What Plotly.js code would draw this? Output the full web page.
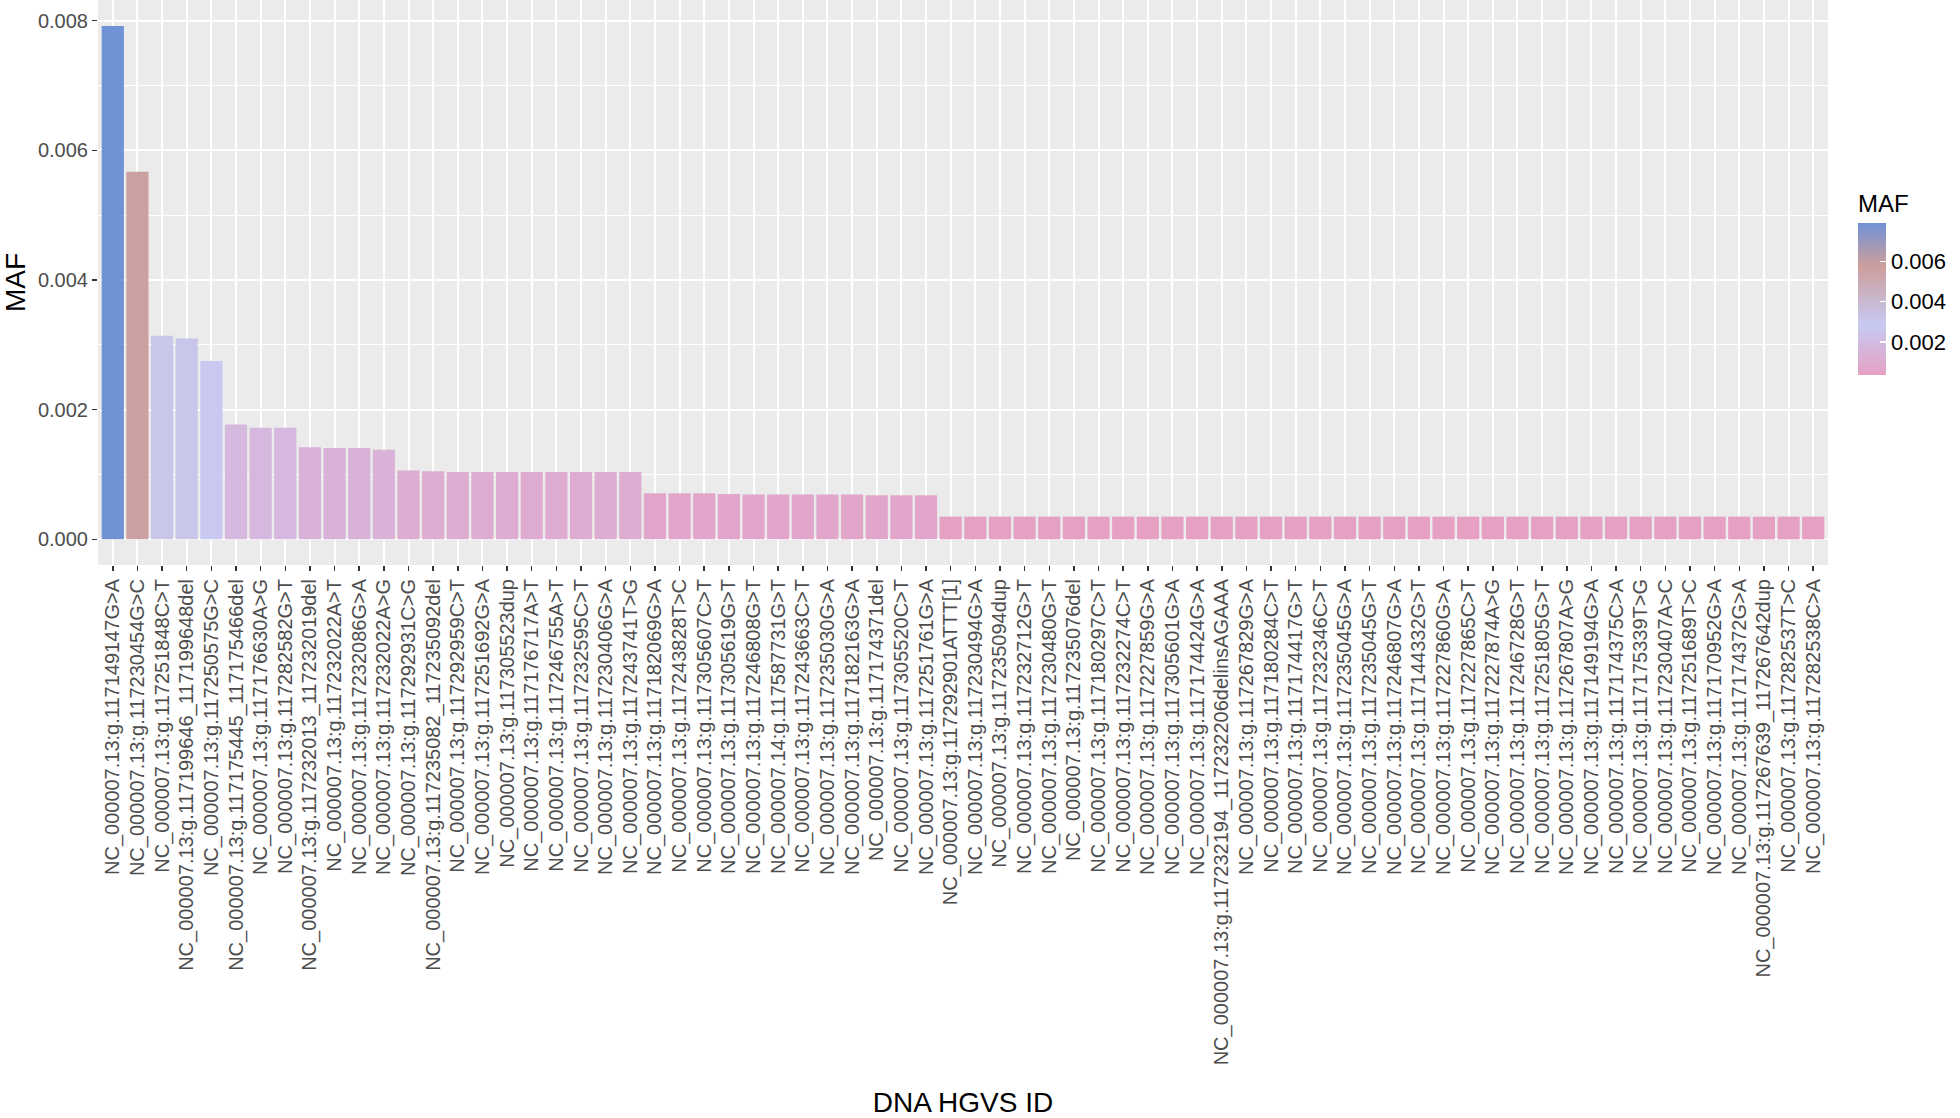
<!DOCTYPE html>
<html>
<head>
<meta charset="utf-8">
<script src="https://cdn.plot.ly/plotly-3.0.1.min.js"></script>
<style>
  html, body { margin: 0; padding: 0; background: #ffffff; }
  #chart { width: 1960px; height: 1118px; }
</style>
</head>
<body>
<div id="chart"></div>
<script>
// Variant IDs (x categories), in plotted order
const variantIds = [
  "NC_000007.13:g.117149147G>A",
  "NC_000007.13:g.117230454G>C",
  "NC_000007.13:g.117251848C>T",
  "NC_000007.13:g.117199646_117199648del",
  "NC_000007.13:g.117250575G>C",
  "NC_000007.13:g.117175445_117175466del",
  "NC_000007.13:g.117176630A>G",
  "NC_000007.13:g.117282582G>T",
  "NC_000007.13:g.117232013_117232019del",
  "NC_000007.13:g.117232022A>T",
  "NC_000007.13:g.117232086G>A",
  "NC_000007.13:g.117232022A>G",
  "NC_000007.13:g.117292931C>G",
  "NC_000007.13:g.117235082_117235092del",
  "NC_000007.13:g.117292959C>T",
  "NC_000007.13:g.117251692G>A",
  "NC_000007.13:g.117305523dup",
  "NC_000007.13:g.117176717A>T",
  "NC_000007.13:g.117246755A>T",
  "NC_000007.13:g.117232595C>T",
  "NC_000007.13:g.117230406G>A",
  "NC_000007.13:g.117243741T>G",
  "NC_000007.13:g.117182069G>A",
  "NC_000007.13:g.117243828T>C",
  "NC_000007.13:g.117305607C>T",
  "NC_000007.13:g.117305619G>T",
  "NC_000007.13:g.117246808G>T",
  "NC_000007.14:g.117587731G>T",
  "NC_000007.13:g.117243663C>T",
  "NC_000007.13:g.117235030G>A",
  "NC_000007.13:g.117182163G>A",
  "NC_000007.13:g.117174371del",
  "NC_000007.13:g.117305520C>T",
  "NC_000007.13:g.117251761G>A",
  "NC_000007.13:g.117292901ATTT[1]",
  "NC_000007.13:g.117230494G>A",
  "NC_000007.13:g.117235094dup",
  "NC_000007.13:g.117232712G>T",
  "NC_000007.13:g.117230480G>T",
  "NC_000007.13:g.117235076del",
  "NC_000007.13:g.117180297C>T",
  "NC_000007.13:g.117232274C>T",
  "NC_000007.13:g.117227859G>A",
  "NC_000007.13:g.117305601G>A",
  "NC_000007.13:g.117174424G>A",
  "NC_000007.13:g.117232194_117232206delinsAGAAA",
  "NC_000007.13:g.117267829G>A",
  "NC_000007.13:g.117180284C>T",
  "NC_000007.13:g.117174417G>T",
  "NC_000007.13:g.117232346C>T",
  "NC_000007.13:g.117235045G>A",
  "NC_000007.13:g.117235045G>T",
  "NC_000007.13:g.117246807G>A",
  "NC_000007.13:g.117144332G>T",
  "NC_000007.13:g.117227860G>A",
  "NC_000007.13:g.117227865C>T",
  "NC_000007.13:g.117227874A>G",
  "NC_000007.13:g.117246728G>T",
  "NC_000007.13:g.117251805G>T",
  "NC_000007.13:g.117267807A>G",
  "NC_000007.13:g.117149194G>A",
  "NC_000007.13:g.117174375C>A",
  "NC_000007.13:g.117175339T>G",
  "NC_000007.13:g.117230407A>C",
  "NC_000007.13:g.117251689T>C",
  "NC_000007.13:g.117170952G>A",
  "NC_000007.13:g.117174372G>A",
  "NC_000007.13:g.117267639_117267642dup",
  "NC_000007.13:g.117282537T>C",
  "NC_000007.13:g.117282538C>A"
];

// Minor allele frequency per variant
const mafValues = [
  0.00792, 0.00567, 0.00314, 0.00310, 0.00275,
  0.00177, 0.00172, 0.00172, 0.00142, 0.00141,
  0.00141, 0.00138, 0.00106, 0.00105, 0.00104,
  0.00104, 0.00104, 0.00104, 0.00104, 0.00104,
  0.00104, 0.00104, 0.00071, 0.00071, 0.00071,
  0.00070, 0.00069, 0.00069, 0.00069, 0.00069,
  0.00069, 0.00068, 0.00068, 0.00068, 0.00035,
  0.00035, 0.00035, 0.00035, 0.00035, 0.00035,
  0.00035, 0.00035, 0.00035, 0.00035, 0.00035,
  0.00035, 0.00035, 0.00035, 0.00035, 0.00035,
  0.00035, 0.00035, 0.00035, 0.00035, 0.00035,
  0.00035, 0.00035, 0.00035, 0.00035, 0.00035,
  0.00035, 0.00035, 0.00035, 0.00035, 0.00035,
  0.00035, 0.00035, 0.00035, 0.00035, 0.00035
];

// Axis ticks
const yTickVals = [0, 0.002, 0.004, 0.006, 0.008];
const yTickText = ["0.000", "0.002", "0.004", "0.006", "0.008"];
const cbTickVals = [0.002, 0.004, 0.006];
const cbTickText = ["0.002", "0.004", "0.006"];

const FONT = "Liberation Sans, Arial, Helvetica, sans-serif";
const W = 1960, H = 1118;
const M = { l: 98, r: 132, t: 0, b: 553 };
const plotW = W - M.l - M.r, plotH = H - M.t - M.b;

const trace = {
  type: "bar",
  x: variantIds,
  y: mafValues,
  width: 0.9,
  marker: {
    color: mafValues,
    cmin: Math.min(...mafValues),
    cmax: Math.max(...mafValues),
    colorscale: [
      [0.00, "#e6a0c4"],
      [0.33, "#c8caf2"],
      [0.72, "#cc9e9c"],
      [1.00, "#7093d6"]
    ],
    line: { width: 0 },
    showscale: true,
    colorbar: {
      title: { text: "MAF", side: "top", font: { family: FONT, size: 24, color: "#000000" } },
      tickvals: cbTickVals,
      ticktext: cbTickText,
      tickfont: { family: FONT, size: 22, color: "#000000" },
      ticks: "inside",
      ticklen: 6,
      tickcolor: "#ffffff",
      tickwidth: 1.5,
      outlinewidth: 0,
      thickness: 28,
      thicknessmode: "pixels",
      len: 184,
      lenmode: "pixels",
      x: (1858 - M.l) / plotW,
      xanchor: "left",
      xpad: 0,
      y: (plotH - 191) / plotH,
      yanchor: "top",
      ypad: 0
    }
  },
  hoverinfo: "x+y"
};

const layout = {
  width: W,
  height: H,
  margin: { l: M.l, r: M.r, t: M.t, b: M.b, pad: 0 },
  paper_bgcolor: "#ffffff",
  plot_bgcolor: "#ebebeb",
  font: { family: FONT, color: "#000000" },
  showlegend: false,
  bargap: 0.1,
  xaxis: {
    type: "category",
    range: [-0.6, variantIds.length - 0.4],
    tickangle: -90,
    tickfont: { family: FONT, size: 20, color: "#4d4d4d" },
    ticks: "outside",
    ticklen: 5,
    tickwidth: 1.5,
    tickcolor: "#333333",
    showgrid: true,
    gridcolor: "#ffffff",
    gridwidth: 2,
    zeroline: false,
    showline: false,
    automargin: false,
    title: { text: "DNA HGVS ID", font: { family: FONT, size: 28, color: "#000000" }, standoff: 28 }
  },
  yaxis: {
    range: [-0.000396, 0.00832],
    tickvals: yTickVals,
    ticktext: yTickText,
    tickfont: { family: FONT, size: 20, color: "#4d4d4d" },
    ticks: "outside",
    ticklen: 5,
    tickwidth: 1.5,
    tickcolor: "#333333",
    showgrid: true,
    gridcolor: "#ffffff",
    gridwidth: 2,
    minor: { dtick: 0.001, tick0: 0, showgrid: true, gridcolor: "#ffffff", gridwidth: 1, ticks: "" },
    zeroline: false,
    showline: false,
    automargin: false,
    title: { text: "MAF", font: { family: FONT, size: 28, color: "#000000" }, standoff: 8 }
  }
};

Plotly.newPlot("chart", [trace], layout, { displayModeBar: false, staticPlot: true });
</script>
</body>
</html>
